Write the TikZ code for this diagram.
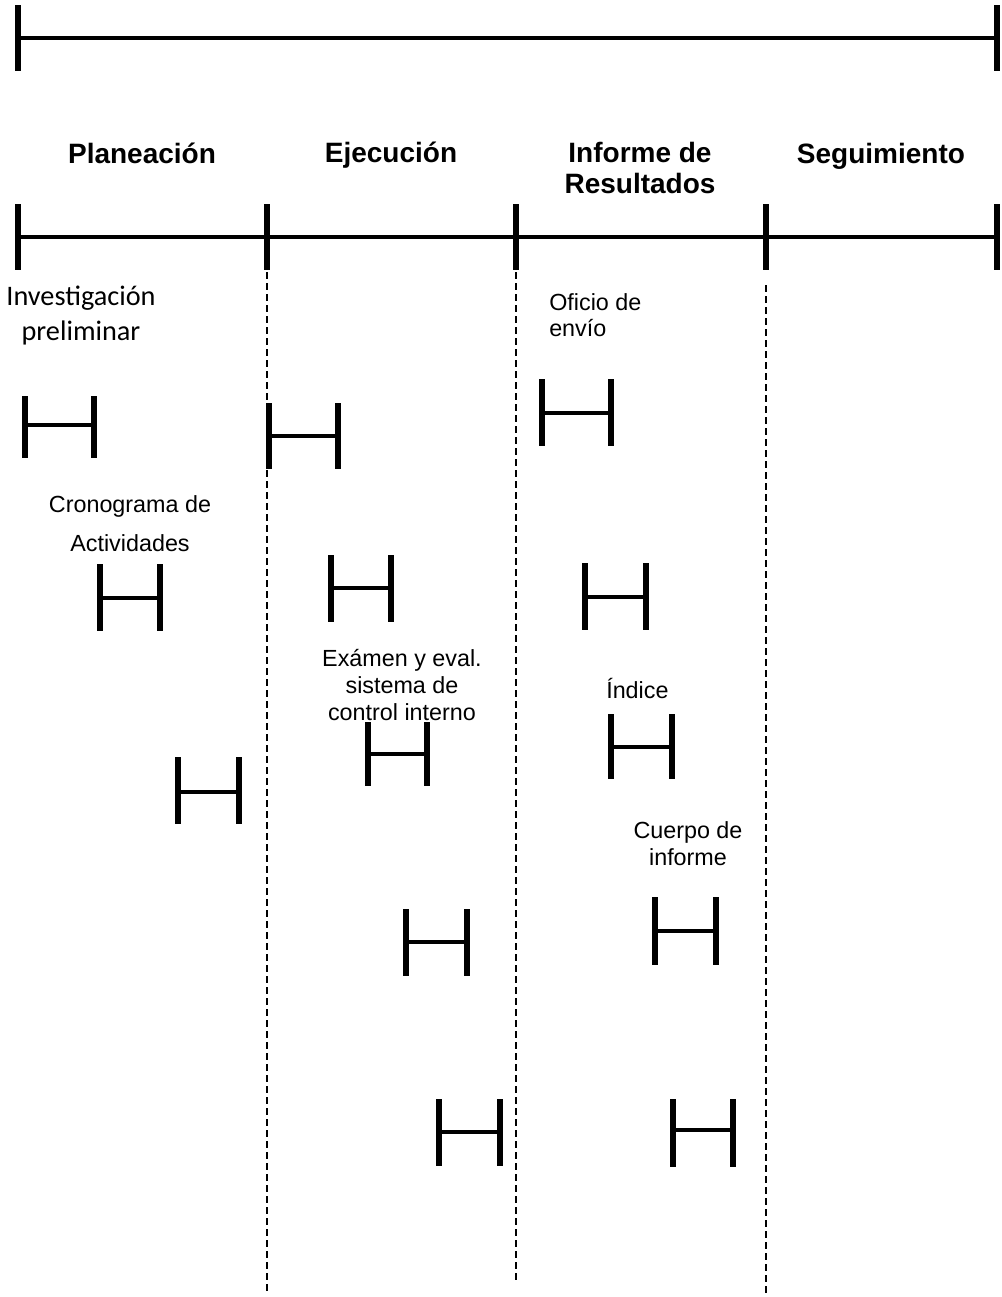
\documentclass[tikz,border=0pt]{standalone}
\usepackage{fontspec}
\setmainfont{Liberation Sans}
\newfontfamily\calibri{Carlito}

% one activity span: left x, right x, top y, bottom y, crossbar y
\newcommand\spanmark[5]{%
  \draw[barend] (#1,#3) -- (#1,#4);
  \draw[barend] (#2,#3) -- (#2,#4);
  \draw[barmid] (#1,#5) -- (#2,#5);}

\begin{document}
\begin{tikzpicture}[x=0.75pt,y=-0.75pt,
  axis/.style={line width=3.5pt},
  tickmark/.style={line width=3.8pt},
  lane/.style={line width=1.1pt, dash pattern=on 5.25pt off 3pt},
  barend/.style={line width=3.9pt},
  barmid/.style={line width=3.2pt},
  phase/.style={font=\fontsize{21}{23.25}\selectfont\bfseries, align=center, anchor=base, inner sep=0pt},
  task/.style={font=\fontsize{17.5}{19.5}\selectfont, anchor=base, inner sep=0pt},
]
\useasboundingbox (0,0) rectangle (1001,1297);

% overall span
\coordinate (T0) at (18,38);
\coordinate (T1) at (997,38);
\draw[axis] (T0) -- (T1);
\foreach \p in {T0,T1}
  \draw[tickmark] ([yshift=33*0.75pt]\p) -- ([yshift=-33*0.75pt]\p);

% phase axis
\coordinate (P0) at (18,237);
\coordinate (P1) at (267,237);
\coordinate (P2) at (516,237);
\coordinate (P3) at (766,237);
\coordinate (P4) at (997,237);
\draw[axis] (P0) -- (P4);
\foreach \p in {P0,P1,P2,P3,P4}
  \draw[tickmark] ([yshift=33*0.75pt]\p) -- ([yshift=-33*0.75pt]\p);

% phase names (multi-line nodes sit on the baseline of their last line)
\node[phase] (planeacion) at (142,163) {Planeación};
\node[phase] (ejecucion) at (391,162) {Ejecución};
\node[phase] (informe) at (640,193) {Informe de\\Resultados};
\node[phase] (seguimiento) at (881,163) {Seguimiento};

% lane separators
\coordinate (L1a) at (267,272); \coordinate (L1b) at (267,1292);
\coordinate (L2a) at (516,272); \coordinate (L2b) at (516,1282);
\coordinate (L3a) at (766,285); \coordinate (L3b) at (766,1297);
\draw[lane] (L1a) -- (L1b);
\draw[lane] (L2a) -- (L2b);
\draw[lane] (L3a) -- (L3b);

% task labels
\node[anchor=base, inner sep=0pt, align=center,
      font=\calibri\fontsize{21.2}{26.25}\selectfont] (investigacion) at (81,340)
      {Investigación\\preliminar};
\node[task, align=left, anchor=base west] (oficio) at (549,336) {Oficio de\\envío};
\node[task, align=center, font=\fontsize{17.5}{29.25}\selectfont] (cronograma) at (130,551)
      {Cronograma de\\Actividades};
\node[task, align=center, font=\fontsize{17.5}{19.9}\selectfont] (examen) at (402,720)
      {Exámen y eval.\\sistema de\\control interno};
\node[task, anchor=base west] (indice) at (606,698) {Índice};
\node[task, align=center, font=\fontsize{17.5}{20.25}\selectfont] (cuerpo) at (688,865)
      {Cuerpo de\\informe};

% activity spans
\spanmark{25}{94}{396}{458}{425}
\spanmark{269}{338}{403}{469}{436}
\spanmark{542}{611}{379}{446}{413}
\spanmark{100}{160}{564}{631}{598}
\spanmark{331}{391}{555}{622}{588}
\spanmark{585}{646}{563}{630}{597}
\spanmark{178}{239}{757}{824}{792}
\spanmark{368}{427}{722}{786}{754}
\spanmark{611}{672}{714}{779}{747}
\spanmark{406}{467}{909}{976}{942}
\spanmark{655}{716}{897}{965}{931}
\spanmark{439}{500}{1099}{1166}{1132}
\spanmark{673}{733}{1099}{1167}{1130}
\end{tikzpicture}
\end{document}
